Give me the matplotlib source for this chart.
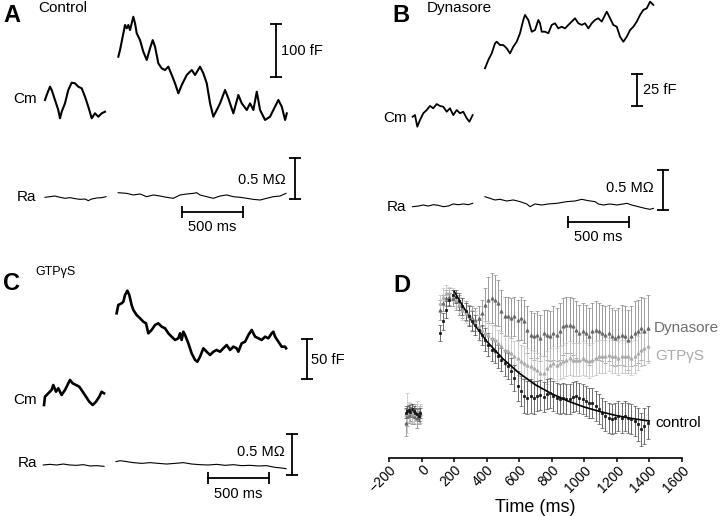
import numpy as np
import matplotlib
matplotlib.use('Agg')
import matplotlib.pyplot as plt

plt.rcParams['font.family'] = ['Liberation Sans', 'DejaVu Sans']

# ---------------- panel A (control) traces: time in ms, Cm in fF, Ra in MOhm
a_pre_t = [-596, -582, -555, -541, -514, -487, -473, -459, -432, -405, -377, -350, -323, -295, -268, -241, -213, -186, -159, -131, -104]
a_pre_cm = [0, 9.4, 25.1, 18.9, 0, -18.9, -34.5, -22.1, -6.2, 18.9, 32.6, 31.5, 25.1, 22.1, 6.2, -12.6, -34.5, -25.1, -31.5, -25.1, -22.1]
a_post_t = [5, 19, 60, 74, 87, 101, 128, 142, 156, 183, 210, 238, 265, 287, 306, 333, 361, 388, 415, 443,
            470, 497, 525, 566, 607, 634, 675, 702, 730, 757, 784, 812, 839, 880, 907, 948, 989, 1017, 1058, 1085,
            1112, 1140, 1167, 1208, 1249, 1276, 1317, 1345, 1372, 1386]
a_post_cm = [81.7, 94.3, 141.5, 135.3, 141.5, 132, 157, 144.7, 125.8, 113, 91, 75.5, 97.6, 113, 100.6, 69.2, 59.7, 56.6, 62.9, 47.2,
             31.4, 12.6, 28.3, 47.2, 56.6, 47.2, 62.9, 50.3, 31.4, -6.3, -31.4, -18.9, -6.3, 18.9, 3.1, -25.2, 9.4, -6.3, -18.9, -6.3,
             -18.9, 15.7, -18.9, -37.7, -31.4, -18.9, 0, -12.6, -37.7, -25.2]
a_ra_pre_t = [-596, -555, -514, -473, -432, -391, -350, -309, -268, -241, -214, -172, -131, -96]
a_ra_pre = [-0.004, 0.004, 0.012, -0.004, -0.016, -0.008, -0.020, -0.029, -0.025, -0.045, -0.025, -0.012, -0.008, 0.004]
a_ra_post_t = [4, 73, 128, 183, 237, 292, 347, 401, 456, 511, 565, 620, 647, 675, 729, 784, 839, 893, 948, 1003, 1058, 1112, 1167, 1222, 1276, 1331, 1380]
a_ra_post = [0.053, 0.045, 0.025, 0.037, 0.004, 0.025, 0.012, -0.004, -0.016, 0.025, 0.037, 0.045, 0.053, 0.025, 0.004, -0.016, 0.012, 0.025,
             0.004, -0.004, -0.016, -0.029, -0.037, -0.016, 0.004, 0.012, 0.045]

# ---------------- panel B (dynasore)
b_pre_t = [-593, -574, -555, -533, -506, -478, -451, -424, -396, -369, -342, -314, -287, -260, -232, -205, -178, -150, -128, -101]
b_pre_cm = [-2.9, -1.6, -10.7, -5.5, -0.2, 2.3, 5.5, 3.7, 7, 5.5, 4.9, 1, 3.7, -1.6, 2.3, -0.2, 1, -4.1, -6.8, -1.6]
b_post_t = [0, 27, 55, 82, 96, 123, 150, 178, 205, 232, 260, 287, 314, 328, 355, 383, 410, 437, 451, 465,
            492, 519, 547, 574, 601, 629, 656, 683, 711, 738, 765, 793, 820, 847, 875, 902, 929, 957, 984, 998,
            1025, 1052, 1080, 1107, 1134, 1162, 1189, 1216, 1244, 1271, 1298, 1326, 1353, 1380]
b_post_cm = [34.9, 41.4, 46.6, 54.4, 55.7, 53.1, 53.1, 50.5, 46.6, 51.8, 55.7, 62.3, 72.7, 76.6, 72.7, 63.5, 64.8, 72.7, 70.1, 63.5,
             63.5, 62.3, 68.8, 70.1, 66.1, 67.4, 66.1, 68.8, 71.4, 74, 70.1, 68.8, 70.1, 66.1, 70.1, 72.7, 74, 71.4, 76.6, 79.2,
             74, 68.8, 67.4, 59.6, 55.7, 59.6, 64.8, 67.4, 71.4, 76.6, 80.5, 81.8, 87, 84.4]
b_ra_pre_t = [-593, -547, -506, -465, -424, -383, -342, -301, -260, -219, -178, -137, -101]
b_ra_pre = [-0.021, -0.013, 0, -0.013, 0.004, -0.004, -0.021, -0.013, 0.013, 0.004, 0.013, 0.004, 0.021]
b_ra_post_t = [0, 41, 82, 123, 178, 232, 287, 342, 369, 410, 465, 519, 588, 670, 738, 793, 847, 902, 929, 970, 1025, 1080, 1134, 1162, 1203, 1257, 1312, 1353, 1380]
b_ra_post = [0.104, 0.083, 0.063, 0.071, 0.05, 0.063, 0.042, 0.013, -0.021, 0.013, 0, 0.013, 0.021, 0.042, 0.05, 0.071, 0.054, 0.042,
             0.013, 0, 0.013, 0, 0.013, 0.021, 0, -0.021, -0.042, -0.054, -0.042]

# ---------------- panel C (GTPgS)
c_pre_t = [-590, -582, -555, -528, -514, -492, -473, -446, -418, -391, -377, -355, -328, -301, -273, -246, -219, -191, -164, -137, -118, -98]
c_pre_cm = [-10, 0.4, 4.6, 8.8, 15, 6.6, 10.9, 2.5, 8.8, 17.1, 21.3, 17.1, 15, 12.9, 6.6, 0.4, -5.9, -10, -5.9, 0.4, 6.6, 4.6]
c_post_t = [5, 19, 46, 60, 74, 93, 109, 128, 142, 169, 197, 224, 246, 265, 292, 320, 347, 374, 402, 429,
            456, 484, 511, 525, 538, 552, 566, 593, 620, 648, 667, 689, 716, 743, 771, 798, 825, 853, 880, 907,
            935, 962, 989, 1003, 1030, 1058, 1085, 1112, 1140, 1167, 1194, 1222, 1249, 1276, 1290, 1304, 1331, 1358, 1386, 1394]
c_post_cm = [104.6, 115, 117.1, 119.1, 127.5, 132.9, 127.5, 115, 108.8, 102.5, 98.4, 94.1, 92.1, 79.6, 83.8, 90, 92.1, 87.9, 85.9, 79.6,
             75.4, 71.3, 73.4, 79.6, 71.3, 81.6, 77.5, 67.1, 54.6, 46.3, 44.1, 50.4, 60.9, 56.6, 52.5, 56.6, 58.8, 56.6, 60.9, 65,
             58.8, 62.9, 60.9, 56.6, 67.1, 69.1, 77.5, 83.8, 75.4, 73.4, 71.3, 75.4, 73.4, 79.6, 81.6, 75.4, 69.1, 62.9, 62.9, 60.9]
c_ra_pre_t = [-596, -541, -487, -432, -377, -323, -268, -213, -159, -98]
c_ra_pre = [0, 0.008, 0, 0.012, 0, -0.004, 0.004, -0.012, -0.008, -0.016]
c_ra_post_t = [0, 33, 73, 142, 210, 279, 347, 415, 484, 552, 620, 689, 757, 825, 894, 962, 1030, 1099, 1167, 1235, 1304, 1358, 1394]
c_ra_post = [0.041, 0.053, 0.045, 0.029, 0.020, 0.029, 0.020, 0.012, 0.020, 0.029, 0.012, 0.004, 0, 0.008, -0.004, 0.004, -0.008,
             -0.004, -0.012, -0.008, -0.029, -0.037, -0.045]

# ---------------- panel D: mean delta Cm (fF) +- SEM
d_pre_t = [-100, -90, -80, -70, -60, -50, -40, -30, -20, -10]
d_t = list(range(110, 1391, 20))
ctrl_pre = [0, 1, 1.6, 0.4, 2, 1, 0, -1, -2, -0.4]
ctrl_pre_err = [3, 3, 3, 3, 3, 3, 3, 3, 3, 3]
ctrl = [48, 55, 62, 68, 71, 70, 67, 64, 61, 58, 55, 53, 50, 47, 44, 41, 38, 37, 34, 32,
        30, 28, 25, 21, 16, 13, 10, 9, 10, 9, 10, 10.4, 9.6, 11, 12, 10, 9, 8, 9, 8,
        8.4, 9.6, 10, 9, 8, 7, 6, 5.6, 4, 2, 0, -2, -3, -4, -3, -2, -3, -2, -3, -4,
        -5, -7, -10, -8, -6]
ctrl_err = [5, 5, 5, 4, 3, 4, 5, 5, 5, 6, 6, 6, 6, 6, 7, 7, 7, 7, 7, 7,
            8, 8, 8, 8, 9, 9, 10, 10, 10, 10, 9, 9, 9, 9, 9, 9, 9, 9, 9, 9,
            9, 9, 9, 9, 9, 9, 9, 9, 9, 9, 9, 9, 9, 9, 9, 9, 9, 9, 9, 9,
            9, 10, 10, 11, 10]
dyn_pre = [-6, -2, -1, 0, -1, -2, 0, -3, -2, -1]
dyn_pre_err = [8, 6, 5, 5, 6, 5, 5, 6, 5, 5]
dyn = [62, 66, 69, 70, 69, 67, 65, 63, 61, 59, 57, 56, 57, 60, 65, 68, 69, 68, 66, 61,
       58, 58, 57, 58, 56, 57, 55, 50, 47, 46, 47, 45, 48, 47, 46, 48, 47, 49, 52, 53,
       53, 52, 50, 48, 49, 48, 46, 49, 50, 49, 48, 47, 48, 46, 45, 46, 47, 46, 44, 46,
       48, 49, 51, 49, 51]
dyn_err = [6, 5, 5, 5, 5, 5, 6, 6, 6, 6, 7, 7, 7, 8, 10, 14, 15, 15, 14, 13,
           12, 12, 12, 12, 12, 13, 13, 14, 14, 14, 14, 14, 14, 15, 15, 16, 16, 17, 17, 17,
           17, 17, 17, 17, 17, 17, 17, 17, 17, 17, 17, 17, 17, 17, 17, 17, 18, 18, 18, 18,
           19, 19, 19, 20, 20]
gtp_pre = [-1, 0, 0.4, 1, -0.4, -1, 0, 1, -1, 0]
gtp_pre_err = [5, 12, 6, 5, 5, 5, 5, 6, 5, 5]
gtp = [66, 70, 72, 72, 71, 68, 65, 62, 60, 58, 56, 54, 52, 50, 48, 47, 45, 44, 42, 40,
       38, 37, 36, 34, 33, 31, 30, 29, 28, 27, 26, 24, 24, 27, 29, 30, 29, 30, 31, 32,
       33, 32, 32, 32, 33, 32, 31, 32, 33, 34, 34, 34, 35, 34, 34, 33, 34, 34, 34, 33,
       34, 36, 38, 39, 40]
gtp_err = [5, 5, 5, 4, 4, 5, 5, 6, 6, 6, 6, 7, 7, 7, 7, 8, 8, 8, 8, 9,
           9, 9, 9, 9, 10, 10, 10, 10, 10, 10, 10, 10, 10, 10, 10, 10, 10, 10, 10, 10,
           10, 10, 10, 10, 10, 10, 10, 10, 10, 10, 10, 10, 10, 10, 10, 10, 10, 10, 10, 10,
           10, 10, 10, 10, 10]
fit_t = [200, 300, 400, 500, 600, 700, 800, 900, 1000, 1100, 1200, 1300, 1400]
fit_v = [73, 56.4, 43, 32.4, 23.8, 16.8, 11.4, 7, 3.4, 0.6, -1.8, -3.6, -5]

W, H = 720, 516
MS_PX = 500 / 61.0   # ms per pixel of the sweep

fig = plt.figure(figsize=(7.2, 5.16), dpi=100)


def trace_axes(box, t0_px, base_px, unit_px):
    x0, y0, x1, y1 = box
    ax = fig.add_axes([x0 / W, 1 - y1 / H, (x1 - x0) / W, (y1 - y0) / H])
    ax.set_xlim((x0 - t0_px) * MS_PX, (x1 - t0_px) * MS_PX)
    ax.set_ylim((base_px - y1) / unit_px, (base_px - y0) / unit_px)
    ax.axis('off')
    return ax


def vbar(ax, x, y0, y1):
    ax.plot([x, x], [y0, y1], color='k', lw=1.3, clip_on=False)
    ax.plot([x, x], [y0, y1], ls='none', marker='_', ms=8, mew=1.3, color='k', clip_on=False)


def hbar(ax, x0, x1, y):
    ax.plot([x0, x1], [y, y], color='k', lw=1.3, clip_on=False)
    ax.plot([x0, x1], [y, y], ls='none', marker='|', ms=8, mew=1.3, color='k', clip_on=False)


def label(x, y, s, size=11, weight='normal', ha='left', color='k'):
    fig.text(x / W, 1 - y / H, s, fontsize=size, fontweight=weight, ha=ha, va='center', color=color)


def trace_panel(cm_box, ra_box, t0, cm_base, cm_px, ra_base, ra_px,
                cm_traces, ra_traces, cm_lw, cm_bar, cm_txt, ra_bar, ra_txt, t_bar, t_txt, cm_lab, ra_lab):
    axc = trace_axes(cm_box, t0, cm_base, cm_px)
    for tt, vv in cm_traces:
        axc.plot(tt, vv, color='k', lw=cm_lw, clip_on=False)
    vbar(axc, *cm_bar)
    axc.text(cm_txt[0], cm_txt[1], cm_txt[2], fontsize=10.5, ha='left', va='center')
    axc.text(cm_lab[0], cm_lab[1], 'Cm', fontsize=11, ha='center', va='center')
    axr = trace_axes(ra_box, t0, ra_base, ra_px)
    for tt, vv in ra_traces:
        axr.plot(tt, vv, color='k', lw=0.8, clip_on=False)
    vbar(axr, *ra_bar)
    axr.text(ra_txt[0], ra_txt[1], '0.5 M\u03a9', fontsize=10.5, ha='right', va='center')
    hbar(axr, *t_bar)
    axr.text(t_txt[0], t_txt[1], '500 ms', fontsize=10.5, ha='center', va='center')
    axr.text(ra_lab[0], ra_lab[1], 'Ra', fontsize=11, ha='center', va='center')


# A
trace_panel((0, 0, 360, 150), (0, 150, 360, 245), 117.7, 100, 0.53, 197, 81.4,
            [(a_pre_t, a_pre_cm), (a_post_t, a_post_cm)], [(a_ra_pre_t, a_ra_pre), (a_ra_post_t, a_ra_post)], 1.5,
            (1298, 43.4, 143.4), (1341, 93, '100 fF'), (1454, -0.025, 0.475), (1381, 0.209),
            (524, 1024, -0.184), (774, -0.37), (-760, 1.9), (-744, 0))
label(12, 16, 'A', size=17, weight='bold', ha='center')
label(38, 8, 'Control', size=11)

# B
trace_panel((360, 0, 720, 150), (360, 150, 720, 250), 485, 113, 1.28, 205, 80,
            [(b_pre_t, b_pre_cm), (b_post_t, b_post_cm)], [(b_ra_pre_t, b_ra_pre), (b_ra_post_t, b_ra_post)], 1.3,
            (1244, 5.5, 30.5), (1298, 18, '25 fF'), (1457, -0.0625, 0.4375), (1386, 0.2125),
            (681, 1181, -0.209), (931, -0.4), (-738, -3.9), (-722, -0.025))
label(401, 16, 'B', size=17, weight='bold', ha='center')
label(427, 8, 'Dynasore', size=11)

# C
trace_panel((0, 255, 360, 420), (0, 420, 360, 516), 116, 397, 0.8, 465, 81.4,
            [(c_pre_t, c_pre_cm), (c_post_t, c_post_cm)], [(c_ra_pre_t, c_ra_pre), (c_ra_post_t, c_ra_post)], 1.9,
            (1564, 22.1, 72.1), (1597, 46, '50 fF'), (1441, -0.123, 0.377), (1386, 0.163),
            (752, 1252, -0.163), (1004, -0.36), (-746, -3.75), (-722, 0.025))
label(11, 284, 'C', size=17, weight='bold', ha='center')
label(35, 272, 'GTP\u03b3S', size=9)

# D
axd = fig.add_axes([389.3 / W, 1 - 457.5 / H, 292.4 / W, (457.5 - 260) / H])
series = [
    (dyn_pre + dyn, dyn_pre_err + dyn_err, '^', 2.4, '#666666', '#8c8c8c'),
    (gtp_pre + gtp, gtp_pre_err + gtp_err, '^', 2.4, '#aaaaaa', '#c4c4c4'),
    (ctrl_pre + ctrl, ctrl_pre_err + ctrl_err, 's', 2.0, '#111111', '#555555'),
]
for vals, errs, mk, msz, col, ecol in series:
    axd.errorbar(d_pre_t + d_t, vals, yerr=errs, fmt=mk, ms=msz, mew=0.5, color=col, mec=col,
                 ecolor=ecol, elinewidth=0.6, capsize=1.5, capthick=0.6)
axd.plot(fit_t, fit_v, color='k', lw=1.2)
axd.set_xlim(-200, 1600)
axd.set_ylim(-27, 92)
for s in ['left', 'top', 'right']:
    axd.spines[s].set_visible(False)
axd.spines['bottom'].set_linewidth(1.2)
axd.set_yticks([])
axd.set_xticks(range(-200, 1601, 200))
axd.tick_params(axis='x', length=3, width=1.1, pad=1, labelsize=10)
plt.setp(axd.get_xticklabels(), rotation=45, ha='right', rotation_mode='anchor')
axd.set_xlabel('Time (ms)', fontsize=13, labelpad=3)
axd.text(1425, 51, 'Dynasore', fontsize=11, color='#6e6e6e', va='center')
axd.text(1436, 34.4, 'GTP\u03b3S', fontsize=11, color='#aaaaaa', va='center')
axd.text(1436, -6, 'control', fontsize=11, color='k', va='center')
label(402, 285, 'D', size=17, weight='bold', ha='center')

fig.savefig('out.png', dpi=100)
